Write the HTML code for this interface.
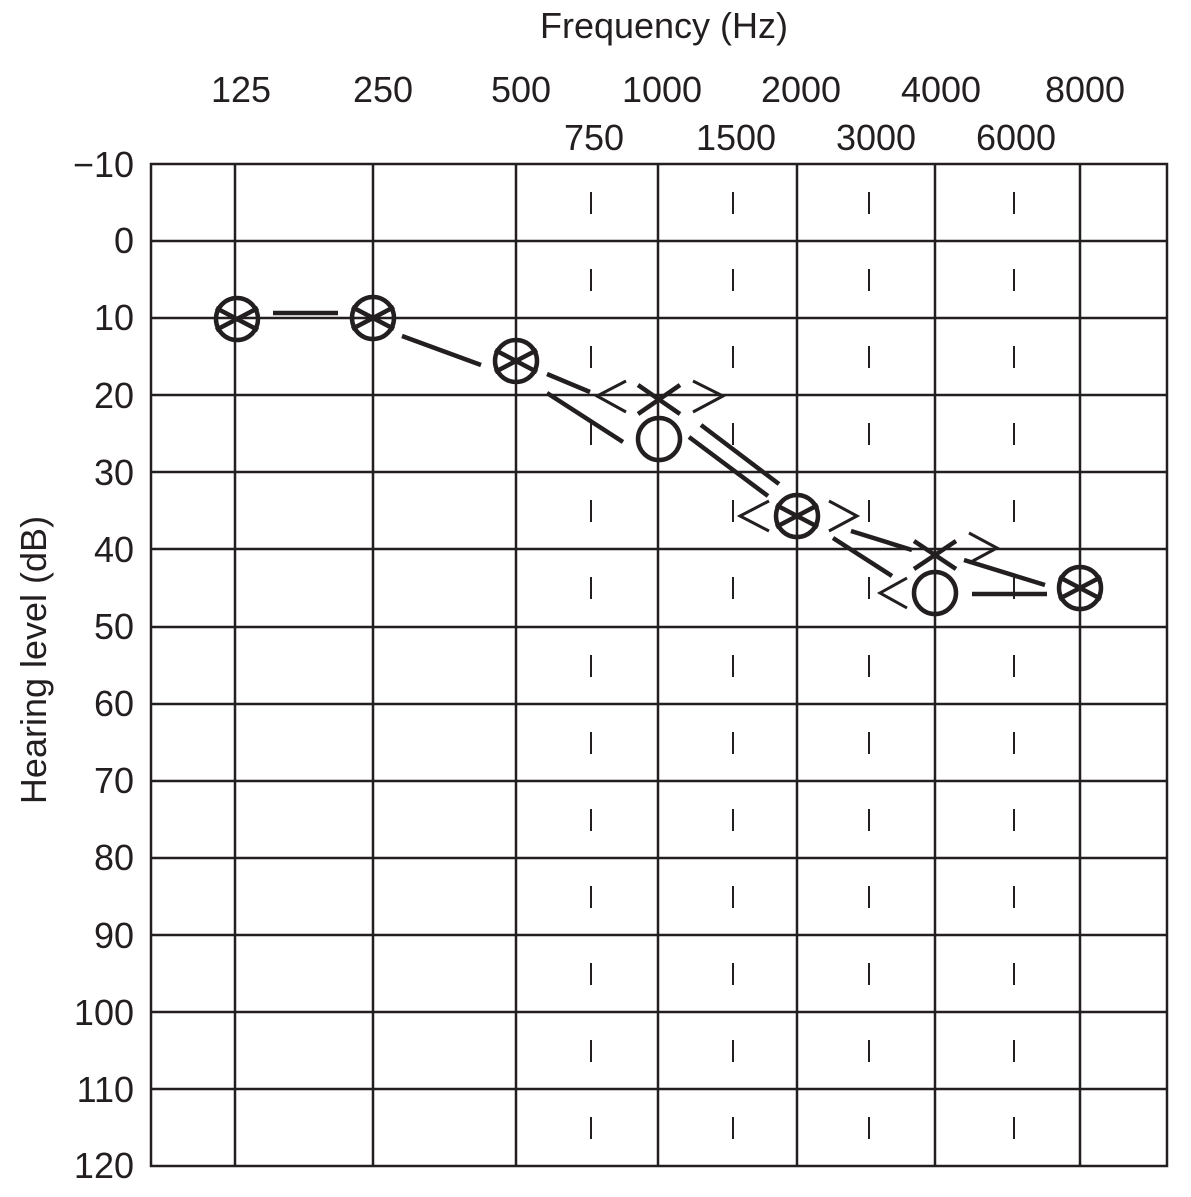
<!DOCTYPE html>
<html><head><meta charset="utf-8"><style>html,body{margin:0;padding:0;background:#fff}svg{display:block}</style></head>
<body>
<svg width="1191" height="1197" viewBox="0 0 1191 1197" xmlns="http://www.w3.org/2000/svg" font-family="Liberation Sans, sans-serif" fill="#231f20">
<rect width="1191" height="1197" fill="#fff"/>
<text x="664" y="38" font-size="36" text-anchor="middle">Frequency (Hz)</text>
<g font-size="36" text-anchor="middle">
<text x="241" y="102">125</text><text x="383" y="102">250</text><text x="521" y="102">500</text>
<text x="662" y="102">1000</text><text x="801" y="102">2000</text><text x="941" y="102">4000</text><text x="1085" y="102">8000</text>
<text x="594" y="150">750</text><text x="736" y="150">1500</text><text x="876" y="150">3000</text><text x="1016" y="150">6000</text>
</g>
<g font-size="36" text-anchor="end">
<text x="134" y="177">−10</text><text x="134" y="253">0</text><text x="134" y="330">10</text><text x="134" y="408">20</text>
<text x="134" y="485">30</text><text x="134" y="562">40</text><text x="134" y="639">50</text><text x="134" y="716">60</text>
<text x="134" y="793">70</text><text x="134" y="870">80</text><text x="134" y="948">90</text><text x="134" y="1025">100</text>
<text x="134" y="1102">110</text><text x="134" y="1178">120</text>
</g>
<text transform="translate(46,660) rotate(-90)" font-size="36" text-anchor="middle">Hearing level (dB)</text>
<g stroke="#231f20" stroke-width="2.5" fill="none">
<rect x="151" y="164" width="1016" height="1002"/>
<path d="M151 241H1167M151 318H1167M151 395H1167M151 472H1167M151 549H1167M151 627H1167M151 704H1167M151 781H1167M151 858H1167M151 935H1167M151 1012H1167M151 1089H1167"/>
<path d="M235 164V1166M373 164V1166M516 164V1166M658 164V1166M797 164V1166M935 164V1166M1080 164V1166"/>
</g>
<g stroke="#231f20" stroke-width="2">
<path id="d" d="M591 192v22M591 269v22M591 346v22M591 423v22M591 500v22M591 577v22M591 655v22M591 732v22M591 809v22M591 886v22M591 963v22M591 1040v22M591 1117v22"/>
<use href="#d" x="142"/><use href="#d" x="278"/><use href="#d" x="423"/>
</g>
<g stroke="#231f20" stroke-width="4.5" fill="none">
<path d="M273 313H338M402 336L481 365M547 374L590 392M547 393L623 442M689 437L768 496M701 425L779 484M851 531L912 550M833 538L892 576M964 560L1045 585M972 594H1047"/>
</g>
<g stroke="#231f20" stroke-width="4.5" fill="none">
<circle cx="237" cy="319" r="21"/><path d="M216 308L258 330M216 330L258 308"/>
<circle cx="373" cy="318" r="21"/><path d="M352 307L394 329M352 329L394 307"/>
<circle cx="516" cy="361" r="21"/><path d="M495 350L537 372M495 372L537 350"/>
<circle cx="797" cy="516" r="21"/><path d="M776 505L818 527M776 527L818 505"/>
<circle cx="1080" cy="588" r="21"/><path d="M1059 577L1101 599M1059 599L1101 577"/>
<path d="M638 385L680 414M638 414L680 385"/>
<path d="M914 541L956 569M914 569L956 541"/>
<circle cx="659" cy="439" r="21"/>
<circle cx="935" cy="593" r="21"/>
</g>
<g stroke="#231f20" stroke-width="3" fill="none">
<path d="M626 381L597 396L626 412M693 381L723 396L693 412"/>
<path d="M769 501L740 516L769 531M829 501L857 516L829 531"/>
<path d="M969 533L997 548L969 563"/>
<path d="M907 578L880 593L907 608"/>
</g>
</svg>
</body></html>
